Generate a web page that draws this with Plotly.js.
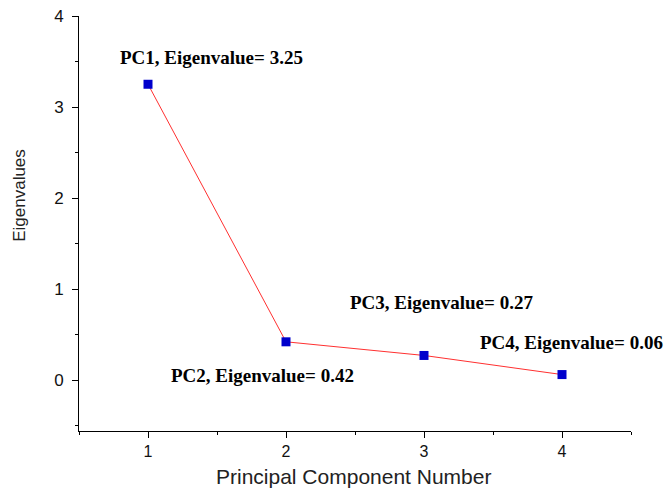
<!DOCTYPE html>
<html>
<head>
<meta charset="utf-8">
<script src="https://cdn.plot.ly/plotly-3.0.1.min.js"></script>
<style>html,body{margin:0;padding:0;background:#fff;}#chart{width:667px;height:490px;}</style>
</head>
<body>
<div id="chart"></div>
<script>
const components = [1, 2, 3, 4];
const eigenvalues = [3.25, 0.42, 0.27, 0.06];
const labelNames = ["PC1", "PC2", "PC3", "PC4"];
const xTitle = "Principal Component Number";
const yTitle = "Eigenvalues";
// label anchor positions in data coordinates
const labelX = [1.46, 1.83, 3.13, 4.07];
const labelY = [3.54, 0.055, 0.85, 0.41];

const annotations = labelNames.map((n, i) => ({
  x: labelX[i], y: labelY[i], xref: 'x', yref: 'y',
  text: '<b>' + n + ', Eigenvalue= ' + eigenvalues[i].toFixed(2) + '</b>',
  showarrow: false, xanchor: 'center', yanchor: 'middle',
  font: {family: 'Liberation Serif, Times New Roman, serif', size: 19, color: '#000'}
}));
annotations.push({
  x: 0.497, y: -0.109, xref: 'paper', yref: 'paper', text: xTitle, showarrow: false,
  xanchor: 'center', yanchor: 'middle',
  font: {family: 'Liberation Sans, Arial, sans-serif', size: 21, color: '#222'}
});
annotations.push({
  x: -0.107, y: 0.569, xref: 'paper', yref: 'paper', text: yTitle, showarrow: false,
  textangle: -90, xanchor: 'center', yanchor: 'middle',
  font: {family: 'Liberation Sans, Arial, sans-serif', size: 17, color: '#222'}
});

const trace = {
  x: components, y: eigenvalues, type: 'scatter', mode: 'lines+markers',
  line: {color: '#ff3030', width: 1},
  marker: {symbol: 'square', size: 9, color: '#0000cc'},
  cliponaxis: false
};

const axisFont = {family: 'Liberation Sans, Arial, sans-serif', size: 16, color: '#111'};
const layout = {
  width: 667, height: 490,
  margin: {l: 79, r: 36, t: 16, b: 59},
  paper_bgcolor: '#fff', plot_bgcolor: '#fff',
  showlegend: false,
  xaxis: {
    range: [0.5, 4.5], tickvals: components, ticktext: components.map(String),
    showgrid: false, zeroline: false, showline: true, linecolor: '#000', linewidth: 1,
    ticks: 'outside', ticklen: 6, tickcolor: '#000',
    minor: {dtick: 0.5, tick0: 0.5, ticks: 'outside', ticklen: 3, tickcolor: '#000', showgrid: false},
    tickfont: axisFont
  },
  yaxis: {
    range: [-0.56, 4], tickvals: [0, 1, 2, 3, 4],
    showgrid: false, zeroline: false, showline: true, linecolor: '#000', linewidth: 1,
    ticks: 'outside', ticklen: 6, tickcolor: '#000', ticklabelstandoff: 5,
    minor: {dtick: 0.5, tick0: 0, ticks: 'outside', ticklen: 3, tickcolor: '#000', showgrid: false},
    tickfont: {family: 'Liberation Sans, Arial, sans-serif', size: 17, color: '#111'}
  },
  annotations: annotations
};
Plotly.newPlot('chart', [trace], layout, {displayModeBar: false, staticPlot: true});
</script>
</body>
</html>
